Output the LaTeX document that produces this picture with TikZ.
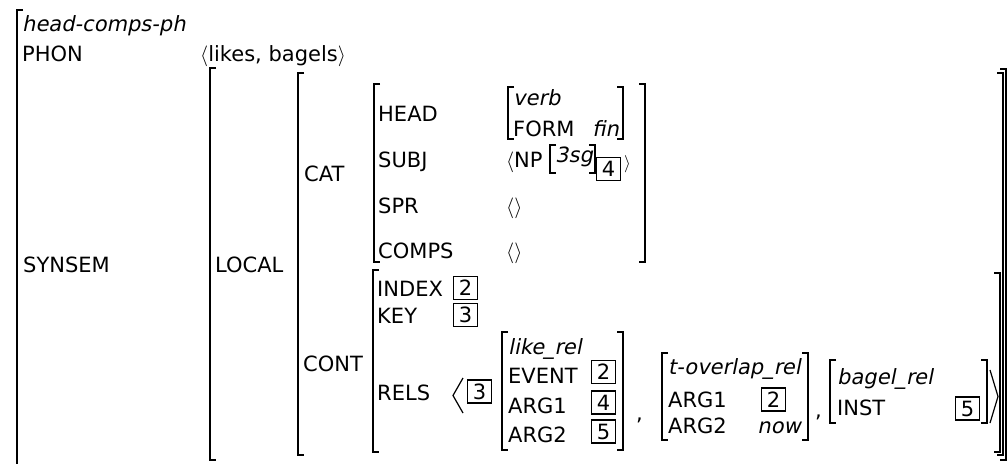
\documentclass[tikz,border=0pt]{standalone}
\usepackage{fontspec}
\setmainfont{DejaVu Sans}
\newfontfamily\oblfont{DejaVu Sans}[FakeSlant=0.2]
\usetikzlibrary{positioning}

% AVM brackets: x, top y, bottom y
\newcommand{\brL}[3]{\draw[brk] ({#1+6},#2) -- (#1,#2) -- (#1,#3) -- ({#1+6},#3);}
\newcommand{\brR}[3]{\draw[brk] ({#1-6},#2) -- (#1,#2) -- (#1,#3) -- ({#1-6},#3);}
% type names
\newcommand{\ty}[1]{{\oblfont\fontsize{21}{25}\selectfont #1}}

\begin{document}
\begin{tikzpicture}[x=1pt, y=-1pt, every node/.style={font=\fontsize{21}{25}\selectfont, inner sep=0pt},
                    feat/.style={anchor=base west},
                    tag/.style={draw, line width=1.6pt, minimum width=24pt, minimum height=23pt},
                    brk/.style={line width=1.5pt}]
        \useasboundingbox (0,0) rectangle (1008,463);
        \clip (0,0) rectangle (1008,463);

        % outer matrix
        \node (hcp) [feat] at (22,31) {\ty{head-comps-ph}};
        \node (phon) [feat] at (22,61) {PHON};
        \node (phonval) [feat] at (200,61) {$\langle$likes, bagels$\rangle$};
        \node (synsem) [feat] at (23,272) {SYNSEM};
        \brL{17}{10}{490}

        % synsem value
        \brL{210}{68}{460}
        \brR{1006}{69}{460}
        \node (local) [feat] at (215,272) {LOCAL};

        % local value
        \brL{298}{73}{455}
        \brR{1003}{73}{455}
        \node (cat) [feat] at (304,181) {CAT};
        \node (cont) [feat] at (303,371) {CONT};

        % cat value
        \brL{374}{84}{262}
        \brR{645}{84}{262}
        \node (head) [feat] at (378,121) {HEAD};
        \node (subj) [feat] at (378,167) {SUBJ};
        \node (spr) [feat] at (378,213) {SPR};
        \node (comps) [feat] at (378,258) {COMPS};

        \brL{508}{87}{139}
        \brR{623}{87}{139}
        \node (verb) [feat] at (513,105) {\ty{verb}};
        \node (form) [feat] at (513,136) {FORM};
        \node (fin) [anchor=base east] at (619,136) {\ty{fin}};

        \node (subjl) [feat] at (506,167) {$\langle$};
        \node (np) [feat] at (514,167) {NP};
        \brL{550}{145}{173}
        \brR{595}{145}{173}
        \node (sg) [feat] at (555,162) {\ty{3sg}};
        \node (tagfour) [tag] at (608.5,169) {4};
        \node (subjr) [feat, font=\fontsize{16}{16}\selectfont] at (624,168) {$\rangle$};

        \node (sprval) [feat] at (506,213) {$\langle\rangle$};
        \node (compsval) [feat] at (506,258) {$\langle\rangle$};

        % cont value
        \brL{373}{270}{452}
        \brR{1000}{273}{452}
        \node (index) [feat] at (377,296) {INDEX};
        \node (indextag) [tag] at (465.5,288) {2};
        \node (key) [feat] at (377,323) {KEY};
        \node (keytag) [tag] at (465.5,315) {3};
        \node (rels) [feat] at (377,400) {RELS};
        \draw[line width=1.2pt] (463,378) -- (453,395.5) -- (463,413);
        \node (relstag) [tag] at (479.5,391.5) {3};

        % like_rel
        \brL{502}{332}{450}
        \brR{623}{332}{450}
        \node (like) [feat] at (508,354) {\ty{like\_rel}};
        \node (event) [feat] at (508,383) {EVENT};
        \node (likeargone) [feat] at (508,413) {ARG1};
        \node (likeargtwo) [feat] at (508,442) {ARG2};
        \node (eventtag) [tag] at (603.5,372) {2};
        \node (argonetag) [tag] at (603.5,402.5) {4};
        \node (argtwotag) [tag] at (603.5,431.5) {5};
        \node (commaone) [feat] at (636,420) {,};

        % t-overlap_rel
        \brL{662}{353}{440}
        \brR{808}{353}{440}
        \node (tover) [feat] at (668,374) {\ty{t-overlap\_rel}};
        \node (toargone) [feat] at (668,407) {ARG1};
        \node (toargtwo) [feat] at (668,433) {ARG2};
        \node (totag) [tag] at (773.5,399.5) {2};
        \node (now) [anchor=base east] at (801,433) {\ty{now}};
        \node (commatwo) [feat] at (815,417) {,};

        % bagel_rel
        \brL{830}{360}{423}
        \brR{987}{360}{423}
        \node (bagel) [feat] at (837,384) {\ty{bagel\_rel}};
        \node (inst) [feat] at (837,415) {INST};
        \node (insttag) [tag] at (967.5,408.5) {5};
        \draw[line width=1.2pt] (990,370) -- (998,396.5) -- (990,423);
    \end{tikzpicture}
\end{document}
